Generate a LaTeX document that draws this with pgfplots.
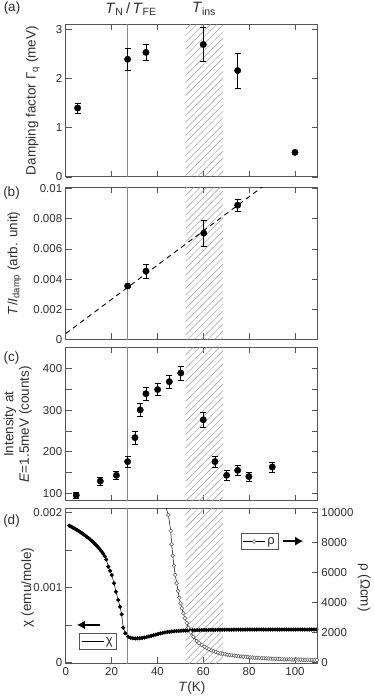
\documentclass[border=0pt]{standalone}
\usepackage{fontspec}
\setmainfont{Liberation Sans}
\usepackage{pgfplots}
\pgfplotsset{compat=1.18}
\usetikzlibrary{patterns.meta,arrows.meta}
\definecolor{frame}{HTML}{555555}
\definecolor{txt}{HTML}{2E2E2E}
\definecolor{vline}{HTML}{8A8A8A}
\definecolor{hatch}{HTML}{9A9A9A}

\pgfplotsset{
  panel/.style={
    scale only axis, width=252.2pt, xmin=0, xmax=110,
    xtick={0,20,...,100}, xticklabels={},
    scaled x ticks=false, scaled y ticks=false,
    axis line style={frame, line width=1pt},
    tick style={frame, line width=0.8pt},
    tick align=inside, major tick length=6pt, minor tick length=6pt,
    tick label style={font=\fontsize{11.5}{13}\selectfont, text=txt},
    every axis y label/.style={rotate=90, anchor=center,
      font=\fontsize{13.5}{15.5}\selectfont, text=txt},
    every axis x label/.style={at={(ticklabel cs:0.5)}, anchor=near ticklabel,
      font=\fontsize{13.5}{15.5}\selectfont, text=txt},
    anchor=north west,
  },
  dots/.style={only marks, mark=*, mark size=3.2pt, black,
    error bars/.cd, y dir=both, y explicit,
    error bar style={line width=0.6pt, black},
    error mark options={rotate=90, mark size=3pt, line width=0.6pt, black}},
  leg/.style={legend style={at={#1}, anchor=center, draw=frame, line width=0.6pt,
    font=\fontsize{13}{15}\selectfont, text=txt, inner sep=1.5pt},
    legend image code/.code={\draw[mark repeat=2,mark phase=2,##1] plot coordinates {(0pt,0pt)(11pt,0pt)(22pt,0pt)};}},
}

% hatched T_ins band and T_N line
\newcommand\decor[2]{%
  \addplot[draw=none, pattern={Lines[angle=45,distance=4.7pt,line width=0.45pt]}, pattern color=hatch]
    coordinates {(52.3,#1) (52.3,#2) (68.7,#2) (68.7,#1) (52.3,#1)};
  \addplot[vline, line width=1pt] coordinates {(27,#1) (27,#2)};
}

\begin{document}
\begin{tikzpicture}
\path[use as bounding box] (0,0) rectangle (374pt,700pt);

% (a)
\begin{axis}[panel, at={(65.7pt,675.7pt)}, height=152.7pt,
  ymin=0, ymax=3.1, ytick={0,1,2,3}, yticklabels={0,1,2,3},
  ylabel={Damping factor Γ\textsubscript{q} (meV)},
  ylabel style={at={(axis description cs:-0.130,0.5)}}]
\decor{-0.1}{3.2}
\addplot[dots] coordinates {
  (5.2,1.40) +- (0,0.10)
  (27,2.39) +- (0,0.22)
  (35,2.53) +- (0,0.17)
  (60,2.69) +- (0,0.35)
  (75,2.16) +- (0,0.36)
  (100,0.50) +- (0,0)
};
\end{axis}

% (b)
\begin{axis}[panel, at={(65.7pt,512.7pt)}, height=152pt,
  ymin=0, ymax=0.0101, ytick={0,0.002,0.004,0.006,0.008,0.01},
  yticklabels={0,0.002,0.004,0.006,0.008,0.01},
  ylabel={\textit{T}/\textit{I}\textsubscript{damp} (arb. unit)},
  ylabel style={at={(axis description cs:-0.203,0.5)}}]
\decor{-0.0002}{0.0103}
\addplot[black, line width=0.9pt, dash pattern=on 5pt off 4pt] coordinates {(0,0.00038) (88,0.01038)};
\addplot[dots] coordinates {
  (27,0.00354) +- (0,0.00008)
  (35,0.00453) +- (0,0.00048)
  (60.2,0.00705) +- (0,0.00084)
  (75,0.00891) +- (0,0.00038)
};
\end{axis}

% (c)
\begin{axis}[panel, at={(65.7pt,352.7pt)}, height=153.7pt,
  ymin=81, ymax=452, ytick={100,200,300,400}, minor ytick={150,250,350},
  yticklabels={100,200,300,400},
  ylabel={Intensity at\\\textit{E}=1.5meV (counts)},
  ylabel style={align=center, at={(axis description cs:-0.191,0.5)}}]
\decor{70}{460}
\addplot[dots] coordinates {
  (4.6,95) +- (0,8)
  (15.1,129) +- (0,9)
  (22.1,143) +- (0,9)
  (27,176) +- (0,13)
  (30.2,234) +- (0,15)
  (32.5,301) +- (0,15)
  (35,340) +- (0,16)
  (40.1,350) +- (0,15)
  (45.2,369) +- (0,16)
  (50.2,390) +- (0,17)
  (60,277) +- (0,18)
  (65.1,176) +- (0,13)
  (70.2,143) +- (0,11)
  (75,155) +- (0,11)
  (79.9,140) +- (0,11)
  (90.1,163) +- (0,12)
};
\end{axis}

% (d) chi, left axis
\begin{axis}[panel, at={(65.7pt,191.7pt)}, height=155.2pt,
  ymin=-0.000016, ymax=0.002059, ytick pos=left,
  ytick={0,0.001,0.002}, minor ytick={0.0005,0.0015},
  yticklabels={0,0.001,0.002},
  xticklabels={0,20,40,60,80,100},
  xlabel={\textit{T}(K)}, ylabel={χ (emu/mole)},
  ylabel style={at={(axis description cs:-0.151,0.49)}},
  leg={(0.128,0.142)}]
\decor{-0.00005}{0.0021}
\addplot[black, line width=0.5pt, mark=*, mark size=1.8pt] coordinates {
  (1.6,0.001826) (2.3,0.001815) (3.0,0.001803) (3.7,0.001791) (4.4,0.001778)
  (5.1,0.001765) (5.8,0.001752) (6.5,0.001738) (7.2,0.001723) (7.9,0.001708)
  (8.6,0.001692) (9.3,0.001676) (10.0,0.001659) (10.7,0.001641) (11.4,0.001622)
  (12.1,0.001602) (12.8,0.001581) (13.5,0.001559) (14.2,0.001536) (14.9,0.001511)
  (15.6,0.001484) (16.3,0.001453) (17.0,0.001418) (17.7,0.001374) (18.6,0.001278)
  (19.4,0.001222) (20.1,0.001167) (21.1,0.001056) (21.9,0.000944) (22.9,0.000833)
  (23.7,0.000743) (24.4,0.000642) (25.1,0.000463) (26.0,0.000388) (27.3,0.000342)
  (28.3,0.000328) (29.3,0.000321) (30.3,0.000319) (31.3,0.000320) (32.3,0.000322)
  (33.3,0.000326) (34.3,0.000331) (35.3,0.000338) (36.3,0.000346) (37.3,0.000354)
  (38.3,0.000362) (39.3,0.000370) (40.3,0.000378) (41.3,0.000386) (42.3,0.000393)
  (43.3,0.000399) (44.3,0.000404) (45.3,0.000408) (46.3,0.000412) (47.3,0.000415)
  (48.3,0.000418) (49.3,0.000420) (50.3,0.000422) (51.3,0.000424) (52.3,0.000425)
  (53.3,0.000426) (54.3,0.000427) (55.3,0.000428) (56.3,0.000429) (57.3,0.000430)
  (58.3,0.000431) (59.3,0.000432) (60.3,0.000432) (61.3,0.000433) (62.3,0.000433)
  (63.3,0.000434) (64.3,0.000434) (65.3,0.000434) (66.3,0.000435) (67.3,0.000435)
  (68.3,0.000435) (69.3,0.000436) (70.3,0.000436) (71.3,0.000436) (72.3,0.000436)
  (73.3,0.000437) (74.3,0.000437) (75.3,0.000437) (76.3,0.000437) (77.3,0.000437)
  (78.3,0.000437) (79.3,0.000438) (80.3,0.000438) (81.3,0.000438) (82.3,0.000438)
  (83.3,0.000438) (84.3,0.000438) (85.3,0.000438) (86.3,0.000438) (87.3,0.000438)
  (88.3,0.000438) (89.3,0.000438) (90.3,0.000438) (91.3,0.000438) (92.3,0.000438)
  (93.3,0.000438) (94.3,0.000438) (95.3,0.000438) (96.3,0.000438) (97.3,0.000438)
  (98.3,0.000438) (99.3,0.000438) (100.3,0.000438) (101.3,0.000438) (102.3,0.000438)
  (103.3,0.000438) (104.3,0.000438) (105.3,0.000438) (106.3,0.000438) (107.3,0.000438)
  (108.3,0.000438) (109.3,0.000438)
};
\addlegendentry{χ}
\draw[black, line width=2.6pt, -{Latex[length=8pt,width=9pt]}] (axis cs:15,0.0005) -- (axis cs:4.9,0.0005);
\end{axis}

% (d) rho, right axis
\begin{axis}[panel, at={(65.7pt,191.7pt)}, height=155.2pt,
  ymin=-80, ymax=10294, axis x line=none, axis y line*=right,
  ytick={0,2000,4000,6000,8000,10000},
  yticklabels={0,2000,4000,6000,8000,10000},
  ylabel={ρ (Ωcm)}, ylabel style={rotate=180, at={(axis description cs:1.183,0.49)}},
  leg={(0.770,0.786)}]
\addplot[black, line width=0.5pt, mark=*, mark size=1.9pt,
  mark options={fill=white, draw=frame, line width=0.5pt}] coordinates {
  (44.8,9850) (45.8,8780) (46.2,7890) (46.7,7130) (47.2,6460) (47.8,5840)
  (48.4,5280) (49.0,4770) (49.5,4320) (50.1,3940) (50.7,3610) (51.3,3280)
  (52.0,2940) (52.8,2610) (53.5,2310) (54.5,2000) (55.7,1710) (57.1,1420)
  (58.2,1280) (59.3,1160) (60.5,1040) (61.5,950) (62.5,870) (63.5,800)
  (64.5,740) (65.5,690) (66.5,640) (67.5,600) (68.5,565) (69.5,535)
  (70.5,505) (71.5,490) (72.5,465) (73.5,445) (74.5,425) (75.5,405)
  (76.5,390) (77.5,375) (78.5,360) (79.5,345) (80.5,334) (81.5,322)
  (82.5,311) (83.5,300) (84.5,290) (85.5,280) (86.5,270) (87.5,262)
  (88.5,254) (89.5,246) (90.5,238) (91.5,230) (92.5,222) (93.5,216)
  (94.5,210) (95.5,204) (96.5,199) (97.5,194) (98.5,189) (99.5,185)
  (100.5,181) (101.5,177) (102.5,173) (103.5,170) (104.5,167) (105.5,164)
  (106.5,161) (107.5,158) (108.5,156) (109.5,154)
};
\addlegendentry{ρ}
\addplot[black, line width=0.5pt, forget plot] coordinates {(43.6,10400) (44.8,9850)};
\draw[black, line width=2.6pt, -{Latex[length=8pt,width=9pt]}] (axis cs:94.9,8100) -- (axis cs:103.6,8100);
\end{axis}

% labels outside the axes
\node[font=\fontsize{15}{17}\selectfont, text=txt] at (131pt,691pt)
  {\textit{T}\textsubscript{N}\,/\,\textit{T}\textsubscript{FE}};
\node[font=\fontsize{15}{17}\selectfont, text=txt] at (204pt,691pt)
  {\textit{T}\textsubscript{ins}};
\node[font=\fontsize{13.5}{15}\selectfont, text=txt] at (12pt,692pt) {(a)};
\node[font=\fontsize{13.5}{15}\selectfont, text=txt] at (11.5pt,507pt) {(b)};
\node[font=\fontsize{13.5}{15}\selectfont, text=txt] at (11.5pt,342pt) {(c)};
\node[font=\fontsize{13.5}{15}\selectfont, text=txt] at (11.5pt,179pt) {(d)};
\end{tikzpicture}
\end{document}
